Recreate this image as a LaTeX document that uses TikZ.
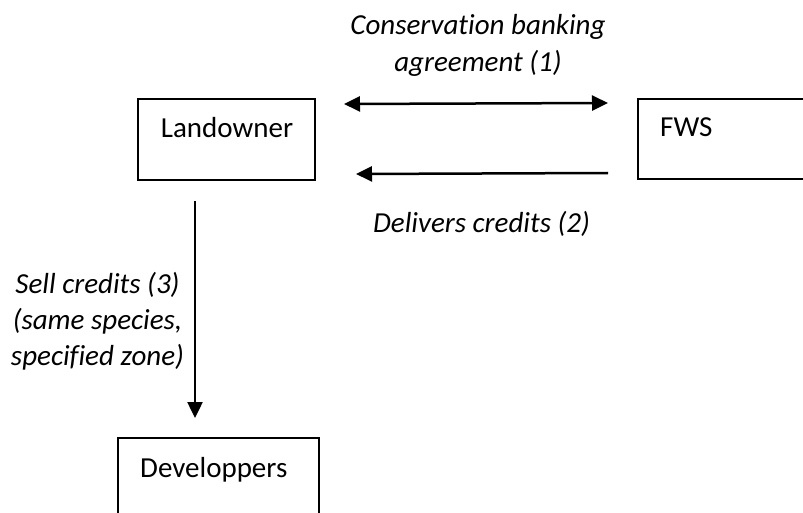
\documentclass[tikz,border=0pt]{standalone}
\usepackage{fontspec}
\setmainfont{Carlito}[Ligatures={NoCommon}]
\usetikzlibrary{arrows.meta}
\tikzset{
  box/.style={draw=black, line width=2pt, rectangle, inner sep=0pt},
  lbl/.style={inner sep=0pt, font=\fontsize{29}{37}\selectfont},
  ilbl/.style={inner sep=0pt, font=\fontsize{29}{36.5}\selectfont\itshape, align=center},
  arr/.style={line width=2.5pt, -{Triangle[length=16pt,width=15pt]}},
  darr/.style={line width=2.5pt, {Triangle[length=16pt,width=15pt]}-{Triangle[length=16pt,width=15pt]}}
}
\begin{document}
\begin{tikzpicture}[x=1pt,y=-1pt]
\useasboundingbox (0,0) rectangle (803,513);
\clip (0,0) rectangle (803,513);
\fill[white] (0,0) rectangle (803,513);
% boxes
\node[box, minimum width=177pt, minimum height=81pt] (land) at (226.5,139.5) {};
\node[box, minimum width=177pt, minimum height=80pt] (fws) at (726.5,139) {};
\node[box, minimum width=201pt, minimum height=84pt] (dev) at (218.5,480) {};
% box texts
\node[lbl, anchor=base] (landt) at (227,138) {Landowner};
\node[lbl, anchor=base west] (fwst) at (660,137) {FWS};
\node[lbl, anchor=base west] (devt) at (140,477) {Developpers};
% arrow end points
\coordinate (a1l) at (344,104);
\coordinate (a1r) at (608,103);
\coordinate (a2r) at (608,173);
\coordinate (a2l) at (356,174);
\coordinate (a3t) at (195,201);
\coordinate (a3b) at (195,418);
\draw[darr] (a1l) -- (a1r);
\draw[arr] (a2r) -- (a2l);
\draw[arr] (a3t) -- (a3b);
% labels
\node[ilbl, anchor=base] (l1a) at (478,35) {Conservation banking};
\node[ilbl, anchor=base] (l1b) at (478,72) {agreement (1)};
\node[ilbl, anchor=base] (l2) at (481.5,233) {Delivers credits (2)};
\node[ilbl, anchor=base] (l3a) at (97.5,293) {Sell credits (3)};
\node[ilbl, anchor=base] (l3b) at (97.5,329) {(same species,};
\node[ilbl, anchor=base] (l3c) at (97.5,365) {specified zone)};
\end{tikzpicture}
\end{document}
